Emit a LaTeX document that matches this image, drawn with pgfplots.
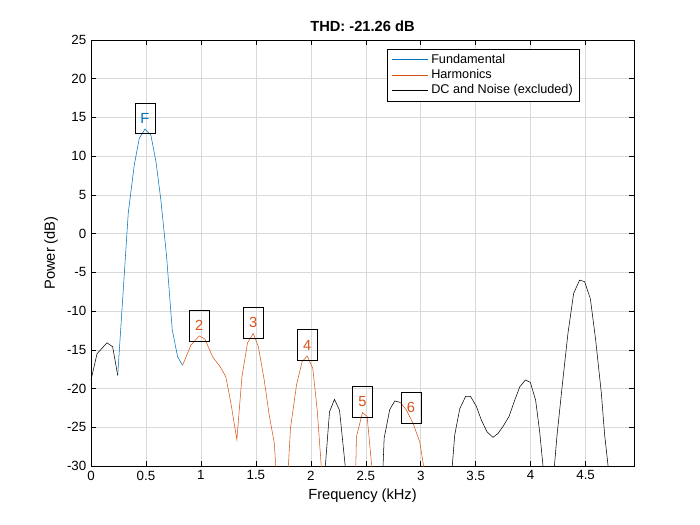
\documentclass[border=0pt]{standalone}
\usepackage{pgfplots}
\pgfplotsset{compat=1.18}
\usepackage{fontspec}
\setmainfont{Liberation Sans}
\definecolor{mblue}{RGB}{0,114,189}
\definecolor{morange}{RGB}{217,83,25}
\begin{document}
\begin{tikzpicture}
\path[use as bounding box] (-68.25pt,-44.25pt) rectangle (456.75pt,349.5pt);
\begin{axis}[at={(0,0)},anchor=south west,scale only axis,width=407.25pt,height=319.5pt,
 xmin=0,xmax=4.94,ymin=-30,ymax=25,
 xtick={0,0.5,...,4.5},ytick={-30,-25,...,25},
 tick align=inside,tick style={black,thin},major tick length=4pt,
 grid=major,grid style={gray!30},
 axis line style={black,thin},
 ticklabel style={font=\fontsize{10}{12}\selectfont},
 /pgf/number format/assume math mode=true,
 xlabel={Frequency (kHz)},ylabel={Power (dB)},
 label style={font=\fontsize{11}{13}\selectfont},
 title={\bfseries THD: -21.26 dB},title style={font=\fontsize{11}{13}\selectfont,yshift=-3pt},
 legend style={at={(0.9,0.98)},anchor=north east,font=\fontsize{9.5}{11}\selectfont,draw=black,legend cell align=left,row sep=-1pt},
 legend image post style={xscale=1.6},
 every axis plot/.append style={thin}]
\addplot[mblue] coordinates {(0.243,-18.3)(0.339,2.66)(0.394,8.9)(0.439,12.3)(0.491,13.5)(0.545,12.7)(0.591,9.3)(0.636,4.3)(0.688,-3.0)(0.739,-12.4)(0.788,-15.9)(0.833,-17.0)};
\addlegendentry{Fundamental}
\addplot[morange] coordinates {(0.833,-17.0)(0.909,-14.4)(0.985,-13.2)(1.036,-13.6)(1.106,-15.9)(1.176,-17.2)(1.227,-18.5)(1.273,-21.9)(1.327,-26.6)(1.373,-18.5)(1.424,-14.1)(1.476,-12.9)(1.521,-14.5)(1.576,-18.9)(1.621,-23.4)(1.667,-27.0)(1.70,-34)};
\addlegendentry{Harmonics}
\addplot[black] coordinates {(0,-18.9)(0.055,-15.5)(0.145,-14.1)(0.197,-14.6)(0.243,-18.3)};
\addlegendentry{DC and Noise (excluded)}
\addplot[morange] coordinates {(1.78,-34)(1.815,-25.1)(1.870,-19.5)(1.921,-16.5)(1.967,-15.8)(2.018,-17.4)(2.058,-22.8)(2.11,-33)};
\addplot[morange] coordinates {(2.40,-36)(2.415,-26.2)(2.47,-23.1)(2.512,-23.6)(2.58,-34)};
\addplot[morange] coordinates {(2.815,-21.8)(2.870,-22.8)(2.93,-24.5)(2.991,-26.9)(3.06,-33)};
\addplot[black] coordinates {(2.11,-34)(2.170,-23.0)(2.215,-21.4)(2.261,-22.8)(2.32,-31)};
\addplot[black] coordinates {(2.64,-36)(2.667,-26.4)(2.718,-22.7)(2.764,-21.6)(2.815,-21.8)};
\addplot[black] coordinates {(3.27,-33)(3.309,-26.0)(3.355,-22.6)(3.409,-21.0)(3.452,-21.0)(3.506,-22.3)(3.552,-24.1)(3.603,-25.6)(3.657,-26.3)(3.703,-25.8)(3.748,-24.9)(3.803,-23.6)(3.855,-21.5)(3.900,-19.8)(3.952,-18.9)(3.997,-19.2)(4.045,-21.5)(4.082,-25.6)(4.14,-34)};
\addplot[black] coordinates {(4.18,-36)(4.24,-26.0)(4.288,-19.5)(4.339,-12.9)(4.391,-7.7)(4.445,-6.0)(4.491,-6.2)(4.543,-8.4)(4.591,-13.7)(4.643,-20.6)(4.673,-26)(4.72,-32)};
\begin{scope}[every node/.style={draw=black,thin,fill=none,font=\fontsize{11}{13}\selectfont,minimum width=15pt,minimum height=23pt,inner sep=1pt,anchor=south}]
\node[text=mblue] at (axis cs:0.491,12.9) {F};
\node[text=morange] at (axis cs:0.985,-13.9) {2};
\node[text=morange] at (axis cs:1.476,-13.5) {3};
\node[text=morange] at (axis cs:1.967,-16.4) {4};
\node[text=morange] at (axis cs:2.47,-23.7) {5};
\node[text=morange] at (axis cs:2.91,-24.5) {6};
\end{scope}
\end{axis}
\end{tikzpicture}
\end{document}
